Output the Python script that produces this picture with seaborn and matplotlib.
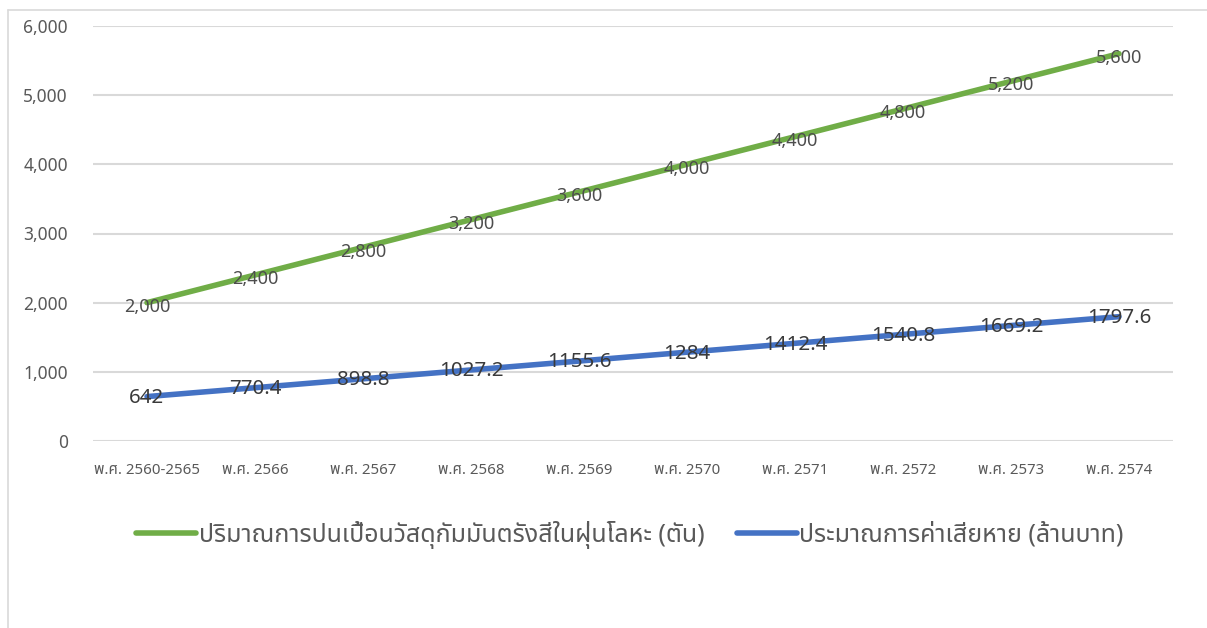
import matplotlib
matplotlib.use("Agg")
import matplotlib.pyplot as plt
import seaborn as sns
import pandas as pd
from matplotlib import font_manager
from matplotlib.ft2font import FT2Font
from matplotlib.lines import Line2D

categories = ["พ.ศ. 2560-2565", "พ.ศ. 2566", "พ.ศ. 2567", "พ.ศ. 2568", "พ.ศ. 2569",
              "พ.ศ. 2570", "พ.ศ. 2571", "พ.ศ. 2572", "พ.ศ. 2573", "พ.ศ. 2574"]
contamination = [2000, 2400, 2800, 3200, 3600, 4000, 4400, 4800, 5200, 5600]
damage = [642, 770.4, 898.8, 1027.2, 1155.6, 1284, 1412.4, 1540.8, 1669.2, 1797.6]
series_names = ["ปริมาณการปนเปื้อนวัสดุกัมมันตรังสีในฝุ่นโลหะ (ตัน)",
                "ประมาณการค่าเสียหาย (ล้านบาท)"]
yticks = [0, 1000, 2000, 3000, 4000, 5000, 6000]

sns.set_theme(style="white")

# pick a font with Thai glyphs
thai_candidates = []
for f in font_manager.fontManager.ttflist:
    try:
        if ord("ป") in FT2Font(f.fname).get_charmap():
            thai_candidates.append(f.name)
    except Exception:
        pass
thai_candidates = sorted(set(thai_candidates))
thai_font = None
for pref in ["Noto Sans Thai", "Leelawadee UI", "Leelawadee", "Anuphan"]:
    if pref in thai_candidates:
        thai_font = pref
        break
if thai_font is None and thai_candidates:
    thai_font = thai_candidates[0]
fams = ([thai_font] if thai_font else []) + ["DejaVu Sans"]
plt.rcParams["font.family"] = fams

df = pd.DataFrame({
    "cat": categories * 2,
    "x": list(range(len(categories))) * 2,
    "value": contamination + damage,
    "series": [series_names[0]] * len(categories) + [series_names[1]] * len(categories),
})

fig = plt.figure(figsize=(12.07, 6.28), dpi=100)
ax = fig.add_axes([93 / 1207, 1 - 441 / 628, (1173 - 93) / 1207, (441 - 26) / 628])

palette = {series_names[0]: "#70AD47", series_names[1]: "#4472C4"}
sns.lineplot(data=df, x="x", y="value", hue="series", palette=palette, linewidth=4.0,
             ax=ax, legend=False, solid_capstyle="round")

ax.set_xlim(-0.5, len(categories) - 0.5)
ax.set_ylim(0, 6000)
ax.set_yticks(yticks)
ax.set_yticklabels([f"{v:,}" for v in yticks], color="#595959", fontsize=12.5)
ax.set_xticks(range(len(categories)))
ax.set_xticklabels(categories, color="#595959", fontsize=10.8)
ax.tick_params(axis="both", length=0)
ax.tick_params(axis="x", pad=16)
ax.tick_params(axis="y", pad=18)
ax.set_xlabel("")
ax.set_ylabel("")
for s in ax.spines.values():
    s.set_visible(False)
ax.yaxis.grid(True, color="#D9D9D9", linewidth=1.5)
ax.set_axisbelow(True)

for i, v in enumerate(contamination):
    ax.annotate(f"{v:,}", (i, v), xytext=(0, -3), textcoords="offset points",
                ha="center", va="center", fontsize=13, color="#4D4D4D")
for i, v in enumerate(damage):
    ax.annotate(f"{v:g}", (i, v), xytext=(0, -1), textcoords="offset points",
                ha="center", va="center", fontsize=14.8, color="#3A3A3A")

handles = [Line2D([0], [0], color="#70AD47", lw=4.0, solid_capstyle="round"),
           Line2D([0], [0], color="#4472C4", lw=4.0, solid_capstyle="round")]
fig.legend(handles, series_names, loc="center", bbox_to_anchor=(630 / 1207, 1 - 535 / 628),
           ncol=2, frameon=False, fontsize=18, labelcolor="#595959", handlelength=2.4,
           handletextpad=0.1, columnspacing=1.3)

# outer chart border (top and left)
fig.add_artist(Line2D([8 / 1207, 1.0], [1 - 10 / 628] * 2, color="#D9D9D9", lw=1.2,
                      transform=fig.transFigure))
fig.add_artist(Line2D([8 / 1207] * 2, [0, 1 - 10 / 628], color="#D9D9D9", lw=1.2,
                      transform=fig.transFigure))

fig.savefig("out.png", dpi=100)
